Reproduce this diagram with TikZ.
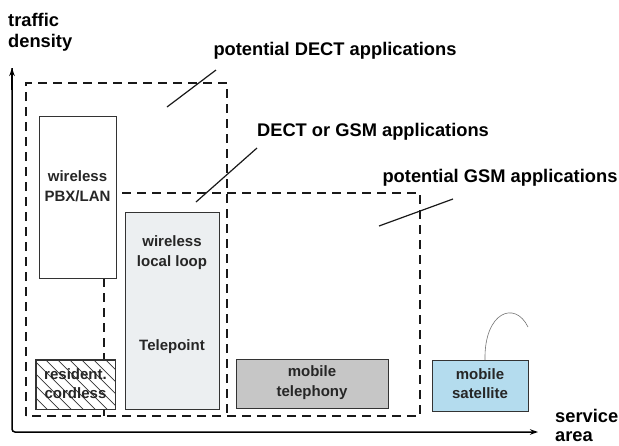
\documentclass[tikz,border=0pt]{standalone}
\usepackage{fontspec}
\setmainfont{Liberation Sans}
\usetikzlibrary{arrows.meta}
\definecolor{tpfill}{HTML}{ECEFF1}
\definecolor{mtfill}{HTML}{C6C6C6}
\definecolor{msfill}{HTML}{B4DCEE}
\begin{document}
\begin{tikzpicture}[x=1pt,y=-1pt,
  lbl/.style={font=\fontsize{18.3}{21}\selectfont\bfseries, inner sep=0pt},
  boxtxt/.style={font=\fontsize{15}{19.5}\selectfont\bfseries, text=black!85, align=center, inner sep=0pt},
  appbox/.style={draw=black!80, line width=0.9pt},
  region/.style={draw=black!90, line width=1.1pt, dash pattern=on 9pt off 6pt},
  pointer/.style={draw=black!90, line width=1.2pt},
  axis/.style={draw=black, line width=1.5pt, -{Stealth[length=8pt,width=5.5pt]}}
]
\useasboundingbox (0,0) rectangle (619,445);
% axes
\coordinate (orig) at (12,432);
\coordinate (ytop) at (12,68);
\coordinate (xend) at (538,432);
\draw[axis, rounded corners=3pt] (ytop) -- (orig) -- (xend);
\draw[axis] (12,90) -- (ytop);
% dashed regions
\draw[region] (26,416) -- (26,83) -- (227,83) -- (227,416);
\draw[region] (122,193) -- (420,193) -- (420,416) -- (26,416);
\draw[region] (104,278) -- (104,360);
\draw[region] (104,409) -- (104,416);
% boxes
\node[appbox, fill=white, minimum width=77pt, minimum height=162pt, inner sep=0pt] (pbx) at (77.5,197) {};
\node[boxtxt] (pbxt) at (77.5,186) {wireless\\PBX/LAN};
\node[appbox, fill=tpfill, minimum width=94pt, minimum height=197pt, inner sep=0pt] (wll) at (172,310.5) {};
\node[boxtxt] (wllt) at (172,252.5) {wireless\\local loop};
\node[boxtxt] (tp) at (172,347) {Telepoint};
\node[appbox, fill=white, minimum width=79pt, minimum height=49pt, inner sep=0pt] (rc) at (75.5,384.5) {};
\begin{scope}
  \clip (rc.north west) rectangle (rc.south east);
  \foreach \k in {-60,-48,...,120} {
    \draw[black!80, line width=0.7pt] (\k,350) -- ++(70,70);
  }
\end{scope}
\draw[appbox] (rc.north west) rectangle (rc.south east);
\node[boxtxt] (rct) at (75.5,383.5) {resident.\\cordless};
\node[appbox, fill=mtfill, minimum width=152pt, minimum height=49pt, inner sep=0pt] (mt) at (312,383.5) {};
\node[boxtxt] (mtt) at (312,382.5) {mobile\\telephony};
\node[appbox, fill=msfill, minimum width=96pt, minimum height=51pt, inner sep=0pt] (ms) at (480,385.5) {};
\node[boxtxt] (mst) at (480,383.5) {mobile\\satellite};
\coordinate (ant) at (485,360);
\coordinate (antend) at (528,327);
\draw[black!55, line width=0.6pt] (ant) .. controls (484,312) and (515,300) .. (antend);
% labels
\node[lbl, align=left, anchor=west] (ylab) at (8,32) {traffic\\density};
\node[lbl, align=left, anchor=north west, font=\fontsize{18.3}{19}\selectfont\bfseries] (xlab) at (555,409) {service\\area};
\node[lbl] (l1) at (335,51) {potential DECT applications};
\node[lbl] (l2) at (373,132) {DECT or GSM applications};
\node[lbl] (l3) at (500,178) {potential GSM applications};
\coordinate (p1a) at (216,70); \coordinate (p1b) at (167,107);
\coordinate (p2a) at (257,148); \coordinate (p2b) at (196,202);
\coordinate (p3a) at (453,199); \coordinate (p3b) at (379,226);
\draw[pointer] (p1a) -- (p1b);
\draw[pointer] (p2a) -- (p2b);
\draw[pointer] (p3a) -- (p3b);
\end{tikzpicture}
\end{document}
